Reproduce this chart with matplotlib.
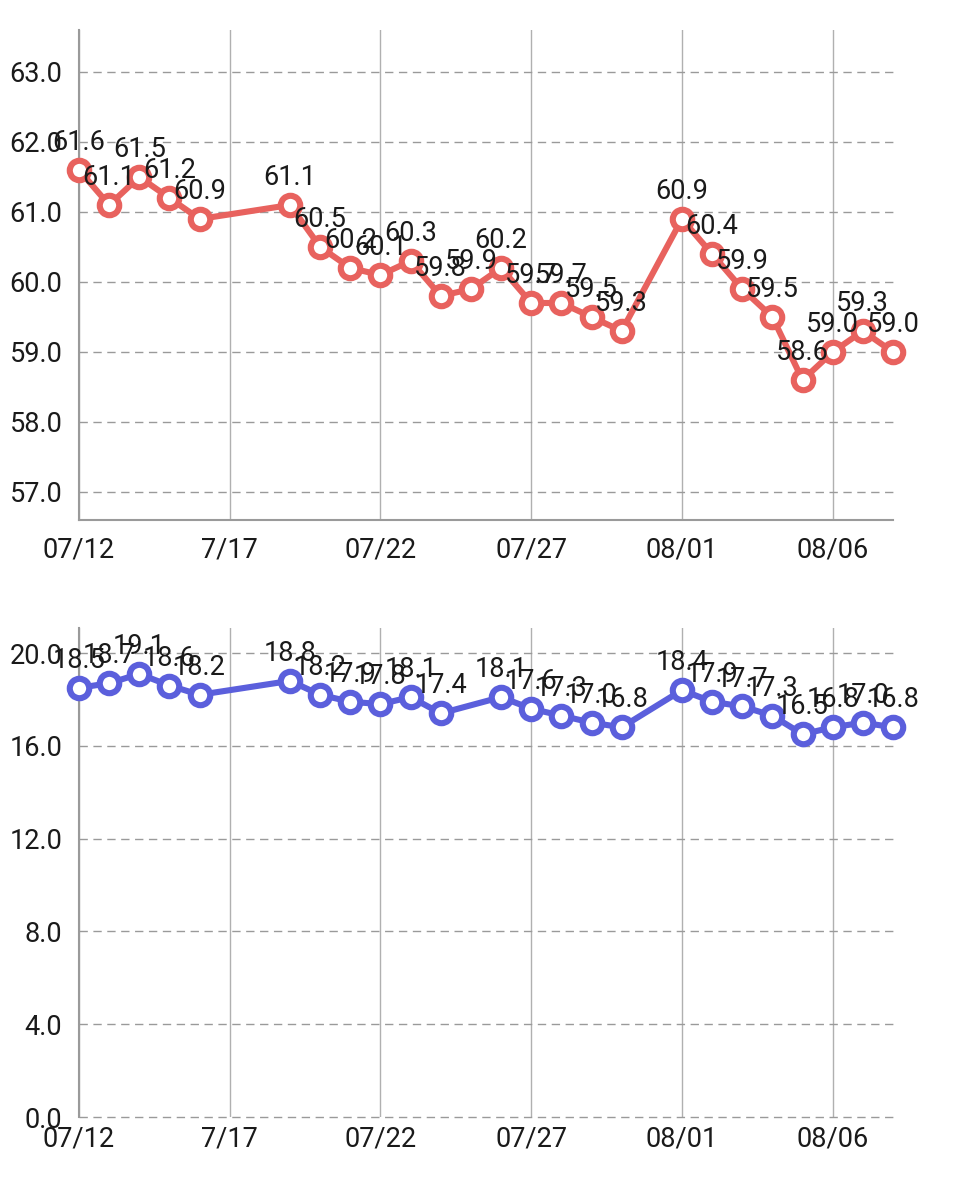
import matplotlib.pyplot as plt
import pandas as pd

plt.rcParams['font.family'] = ['Roboto', 'DejaVu Sans']

# weight chart (top)
top_days = ['07-12', '07-13', '07-14', '07-15', '07-16', '07-19', '07-20', '07-21',
            '07-22', '07-23', '07-24', '07-25', '07-26', '07-27', '07-28', '07-29',
            '07-30', '08-01', '08-02', '08-03', '08-04', '08-05', '08-06', '08-07', '08-08']
top_vals = [61.6, 61.1, 61.5, 61.2, 60.9, 61.1, 60.5, 60.2,
            60.1, 60.3, 59.8, 59.9, 60.2, 59.7, 59.7, 59.5,
            59.3, 60.9, 60.4, 59.9, 59.5, 58.6, 59.0, 59.3, 59.0]

# second chart (bottom)
bot_days = ['07-12', '07-13', '07-14', '07-15', '07-16', '07-19', '07-20', '07-21',
            '07-22', '07-23', '07-24', '07-26', '07-27', '07-28', '07-29',
            '07-30', '08-01', '08-02', '08-03', '08-04', '08-05', '08-06', '08-07', '08-08']
bot_vals = [18.5, 18.7, 19.1, 18.6, 18.2, 18.8, 18.2, 17.9,
            17.8, 18.1, 17.4, 18.1, 17.6, 17.3, 17.0,
            16.8, 18.4, 17.9, 17.7, 17.3, 16.5, 16.8, 17.0, 16.8]

tick_days = ['07-12', '07-17', '07-22', '07-27', '08-01', '08-06']
tick_labels = ['07/12', '7/17', '07/22', '07/27', '08/01', '08/06']

top_yticks = [57.0, 58.0, 59.0, 60.0, 61.0, 62.0, 63.0]
bot_yticks = [0.0, 4.0, 8.0, 12.0, 16.0, 20.0]


def to_dates(days):
    return pd.to_datetime(['2021-' + d for d in days])


fig = plt.figure(figsize=(9.6, 11.85), dpi=100)
ax1 = fig.add_axes([79 / 960, 1 - 520 / 1185, 814 / 960, 490 / 1185])
ax2 = fig.add_axes([79 / 960, 1 - 1117 / 1185, 814 / 960, 489 / 1185])

panels = [
    (ax1, top_days, top_vals, '#e8625e', top_yticks, (56.6, 63.6)),
    (ax2, bot_days, bot_vals, '#5b5fdc', bot_yticks, (0, 21.08)),
]

for ax, days, vals, color, yticks, ylim in panels:
    x = to_dates(days)
    ax.plot(x, vals, color=color, lw=4.4, marker='o', ms=14,
            mfc='white', mec=color, mew=4.4, clip_on=False, zorder=3)
    for xi, v in zip(x, vals):
        ax.annotate(f'{v:.1f}', (xi, v), xytext=(0, 10), textcoords='offset points',
                    ha='center', va='bottom', fontsize=19.5, color='#1a1a1a', zorder=4)

    ax.set_xlim(to_dates(['07-12'])[0], to_dates(['08-08'])[0])
    ax.set_ylim(*ylim)
    ax.set_xticks(to_dates(tick_days))
    ax.set_xticklabels(tick_labels)
    ax.set_yticks(yticks)
    ax.set_yticklabels([f'{t:.1f}' for t in yticks])
    ax.tick_params(length=0, labelsize=19.5, labelcolor='#1a1a1a', pad=12)
    ax.tick_params(axis='x', pad=12)

    ax.grid(axis='x', color='#b0b0b0', lw=1, ls='-')
    ax.grid(axis='y', color='#9a9a9a', lw=1, ls=(0, (6, 4)))
    for gl in ax.get_ygridlines():
        gl.set_clip_on(False)
    ax.set_axisbelow(True)
    for s in ['top', 'right']:
        ax.spines[s].set_visible(False)
    ax.spines['left'].set_color('#9a9a9a')
    ax.spines['bottom'].set_color('#9a9a9a')
    ax.spines['left'].set_linewidth(1.5)
    ax.spines['bottom'].set_linewidth(1.5)

ax2.spines['bottom'].set_visible(False)
ax2.tick_params(axis='x', pad=6)

fig.savefig('out.png', dpi=100)
